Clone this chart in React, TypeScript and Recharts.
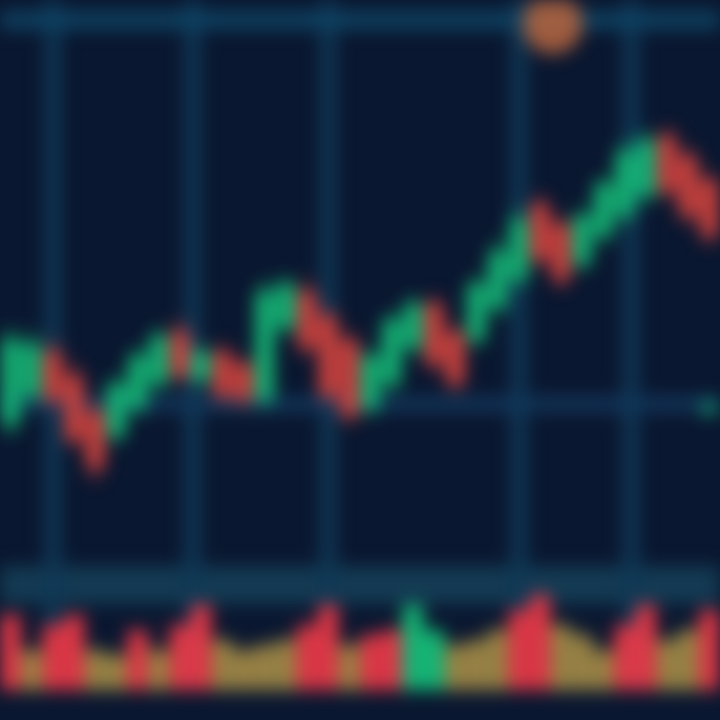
import React from 'react';
import { ComposedChart, Bar, XAxis, YAxis, ReferenceLine, ReferenceDot, ReferenceArea, Cell } from 'recharts';

// candles, read left to right
const openP = [94, 101, 112, 106, 97, 91, 98, 104, 117, 105, 112, 109, 100, 118, 127, 121, 115, 98, 104, 113, 124, 117, 115, 123, 130, 149, 144, 134, 141, 146, 151, 166, 161, 155];
const highP = [118, 117, 115, 109, 100, 106, 113, 118, 120, 114, 114, 111, 130, 131, 130, 123, 117, 113, 122, 126, 126, 119, 131, 140, 148, 151, 146, 148, 156, 165, 167, 168, 163, 157];
const lowP = [91, 99, 98, 88, 80, 89, 96, 102, 104, 103, 99, 98, 98, 116, 111, 99, 94, 96, 102, 111, 107, 102, 113, 121, 128, 133, 128, 132, 139, 144, 149, 150, 144, 139];
const closeP = [115, 114, 100, 90, 83, 104, 111, 116, 106, 112, 101, 100, 127, 129, 113, 101, 96, 111, 120, 124, 109, 104, 129, 137, 145, 135, 130, 146, 154, 162, 165, 152, 146, 141];

// volume pane
const volume = [75, 40, 65, 75, 40, 35, 60, 40, 65, 85, 50, 40, 45, 50, 65, 85, 45, 55, 60, 85, 60, 45, 50, 60, 80, 95, 65, 55, 40, 65, 85, 50, 60, 80];
const volumeSide = ['sell', 'mix', 'sell', 'sell', 'mix', 'mix', 'sell', 'mix', 'sell', 'sell', 'mix', 'mix', 'mix', 'mix', 'sell', 'sell', 'mix', 'sell', 'sell', 'buy', 'buy', 'mix', 'mix', 'mix', 'sell', 'sell', 'mix', 'mix', 'mix', 'sell', 'sell', 'mix', 'mix', 'sell'];

// session separators (in candle index units) and marker levels
const sessionBreaks = [2, 8.6, 15, 24, 29.3];
const priceLevels = [195, 99];

const candles = openP.map((o, i) => ({ i, open: o, high: highP[i], low: lowP[i], close: closeP[i] }));
const volumes = volume.map((v, i) => ({ i, v, side: volumeSide[i] }));

const UP = '#16c57c';
const DOWN = '#e3473f';
const MIX = '#a58c46';
const GRID = '#0f3856';
const BG = '#0a1730';

const sideColor = (s: string) => (s === 'buy' ? UP : s === 'sell' ? '#f03a48' : MIX);

const Candle = (props: any) => {
  const { x, y, width, height, payload } = props;
  const { open, close, high, low } = payload;
  const ratio = height / (high - low || 1);
  const top = y + (high - Math.max(open, close)) * ratio;
  const bottom = y + (high - Math.min(open, close)) * ratio;
  const color = close >= open ? UP : DOWN;
  const cx = x + width / 2;
  return (
    <g>
      <line x1={cx} x2={cx} y1={y} y2={y + height} stroke={color} strokeWidth={4} />
      <rect x={x} y={top} width={width} height={Math.max(bottom - top, 2)} fill={color} />
    </g>
  );
};

const layer: React.CSSProperties = { position: 'absolute', left: 0 };

export default function App() {
  return (
    <div style={{ position: 'fixed', left: 0, top: 0, width: 720, height: 720, background: BG, overflow: 'hidden' }}>
      <div style={{ position: 'relative', width: 720, height: 720, filter: 'blur(9px)' }}>
        {/* price pane: grid behind */}
        <div style={{ ...layer, top: 0 }}>
          <ComposedChart width={720} height={560} data={candles} margin={{ top: 0, right: 0, bottom: 0, left: 0 }}>
            <XAxis dataKey="i" type="number" domain={[-0.5, 33.5]} hide />
            <YAxis domain={[60, 200]} hide />
            <Bar dataKey="high" barSize={1} fill="none" isAnimationActive={false} />
            {sessionBreaks.map((b) => (
              <ReferenceLine key={b} x={b} stroke={GRID} strokeWidth={16} />
            ))}
            <ReferenceLine y={priceLevels[0]} stroke="#0e4262" strokeWidth={18} />
            <ReferenceLine y={priceLevels[1]} stroke="#12385c" strokeWidth={14} />
            <ReferenceDot x={25.6} y={194} r={30} fill="#b8663f" stroke="none" fillOpacity={0.85} />
          </ComposedChart>
        </div>
        {/* price pane: candles on top */}
        <div style={{ ...layer, top: 0 }}>
          <ComposedChart width={720} height={560} data={candles} margin={{ top: 0, right: 0, bottom: 0, left: 0 }}>
            <XAxis dataKey="i" type="number" domain={[-0.5, 33.5]} hide />
            <YAxis domain={[60, 200]} hide />
            <Bar dataKey={(d: any) => [d.low, d.high]} barSize={17} shape={<Candle />} isAnimationActive={false} />
            <ReferenceDot x={33} y={98} r={8} fill={UP} stroke="none" fillOpacity={0.7} />
          </ComposedChart>
        </div>
        {/* volume pane: grid behind */}
        <div style={{ ...layer, top: 560 }}>
          <ComposedChart width={720} height={160} data={volumes} margin={{ top: 0, right: 0, bottom: 30, left: 0 }}>
            <XAxis dataKey="i" type="number" domain={[-0.5, 33.5]} hide />
            <YAxis domain={[0, 130]} hide />
            <Bar dataKey="v" barSize={1} fill="none" isAnimationActive={false} />
            {sessionBreaks.map((b) => (
              <ReferenceLine key={b} x={b} stroke={GRID} strokeWidth={16} />
            ))}
            <ReferenceArea y1={86} y2={124} fill="#17475f" fillOpacity={0.75} stroke="none" />
          </ComposedChart>
        </div>
        {/* volume pane: bars on top */}
        <div style={{ ...layer, top: 560 }}>
          <ComposedChart width={720} height={160} data={volumes} margin={{ top: 0, right: 0, bottom: 30, left: 0 }}>
            <XAxis dataKey="i" type="number" domain={[-0.5, 33.5]} hide />
            <YAxis domain={[0, 130]} hide />
            <Bar dataKey="v" barSize={19} isAnimationActive={false}>
              {volumes.map((d) => (
                <Cell key={d.i} fill={sideColor(d.side)} />
              ))}
            </Bar>
          </ComposedChart>
        </div>
      </div>
    </div>
  );
}
